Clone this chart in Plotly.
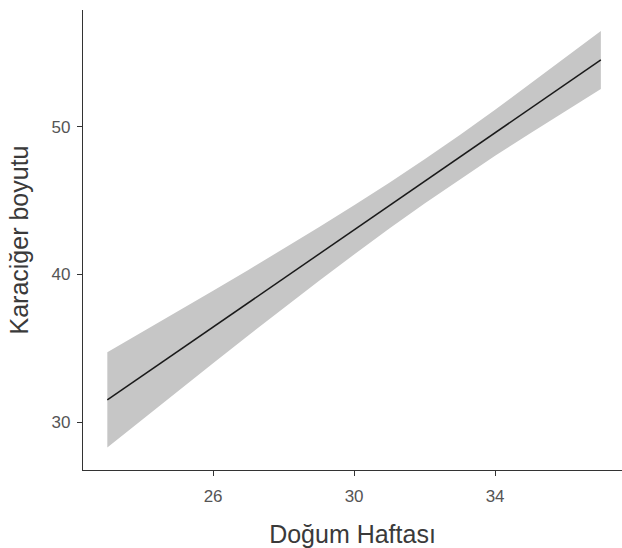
import plotly.graph_objects as go

# Birth week (x) and fitted liver size with its 95% confidence band
weeks = [23, 24, 25, 26, 27, 28, 29, 30, 31, 32, 33, 34, 35, 36, 37]
fit = [31.50, 33.15, 34.79, 36.44, 38.09, 39.73, 41.38, 43.02, 44.67, 46.32,
       47.96, 49.61, 51.26, 52.90, 54.55]
lower = [28.27, 30.19, 32.09, 33.98, 35.87, 37.72, 39.56, 41.35, 43.12, 44.82,
         46.46, 48.05, 49.58, 51.06, 52.58]
upper = [34.73, 36.11, 37.49, 38.90, 40.31, 41.74, 43.20, 44.69, 46.22, 47.82,
         49.46, 51.17, 52.94, 54.74, 56.50]

x_ticks = [26, 30, 34]
y_ticks = [30, 40, 50]

axis_col = "#333333"
tick_font = dict(family="Liberation Sans, Arial, sans-serif", size=17, color="#555555")
title_font = dict(family="Liberation Sans, Arial, sans-serif", size=25, color="#3a3a3a")

fig = go.Figure()
fig.add_trace(go.Scatter(x=weeks, y=lower, mode="lines", line=dict(width=0),
                         hoverinfo="skip", showlegend=False))
fig.add_trace(go.Scatter(x=weeks, y=upper, mode="lines", line=dict(width=0),
                         fill="tonexty", fillcolor="rgb(198,198,198)",
                         hoverinfo="skip", showlegend=False))
fig.add_trace(go.Scatter(x=weeks, y=fit, mode="lines",
                         line=dict(color="#1a1a1a", width=1.5), showlegend=False))

fig.update_layout(
    width=622, height=548,
    margin=dict(l=83, r=0, t=10, b=78),
    paper_bgcolor="white", plot_bgcolor="white",
    xaxis=dict(
        range=[22.31, 37.60], tickvals=x_ticks, ticks="outside", ticklen=5,
        tickwidth=1.2, tickcolor=axis_col, showline=True, linecolor=axis_col,
        linewidth=1.3, showgrid=False, zeroline=False, tickfont=tick_font,
        ticklabelstandoff=5,
        title=dict(text="Doğum Haftası", font=title_font, standoff=20),
    ),
    yaxis=dict(
        range=[26.75, 57.93], tickvals=y_ticks, ticks="outside", ticklen=5,
        tickwidth=1.2, tickcolor=axis_col, showline=True, linecolor=axis_col,
        linewidth=1.3, showgrid=False, zeroline=False, tickfont=tick_font,
        ticklabelstandoff=3,
        title=dict(text="Karaciğer boyutu", font=title_font, standoff=15),
    ),
)

fig.write_html("out.html")
